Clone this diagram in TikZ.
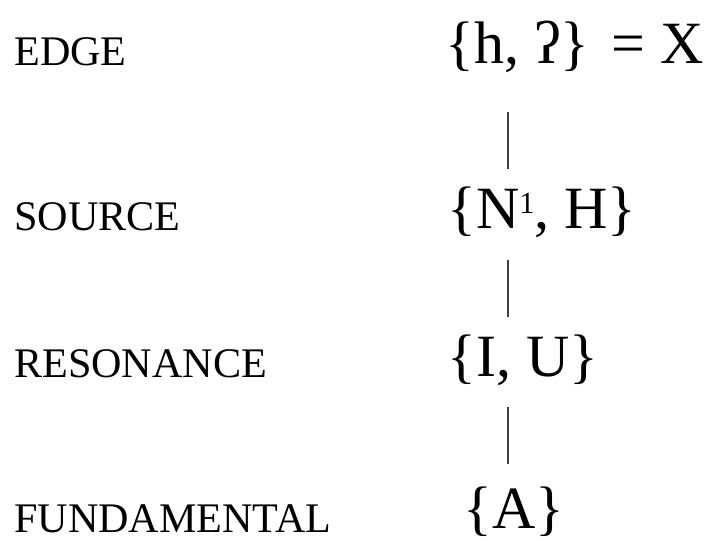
\documentclass[tikz,border=0pt]{standalone}
\usepackage{fontspec}
\setmainfont{Liberation Serif}
\usetikzlibrary{calc}
\tikzset{lvl/.style={anchor=base west, inner sep=0pt, font=\fontsize{31.6}{36}\selectfont},
  elset/.style={anchor=base west, inner sep=0pt, font=\fontsize{45}{52}\selectfont},
  link/.style={line width=1.2pt, black!75}}
\newcommand{\supone}{\raisebox{11pt}{\fontsize{23}{26}\selectfont 1}}

\begin{document}
\begin{tikzpicture}[x=0.75pt, y=-0.75pt]
\useasboundingbox (0,0) rectangle (716,539);
% ===== level names (left column) =====
\foreach \nm/\lab/\yy in {edge/EDGE/65, source/SOURCE/230, resonance/RESONANCE/377, fundamental/FUNDAMENTAL/532}{
  \node[lvl] (\nm) at (14,\yy) {\lab};
}
% ===== element sets (right column) =====
\node[elset] (edgeset) at (445,63) {\{h, ʔ\}\hspace{5pt} = X};
\node[elset] (sourceset) at (447,228) {\{N\supone, H\}};
\node[elset] (resset) at (447,376) {\{I, U\}};
\node[elset] (fundset) at (463,528) {\{A\}};
% vertical links, all on one spine
\coordinate (spine) at (508,0);
\foreach \a/\b/\ga/\gb in {edgeset/sourceset/49/59, sourceset/resset/32/59, resset/fundset/31/64}{
  \draw[link] ($(\a.base -| spine)+(0,\ga)$) -- ($(\b.base -| spine)+(0,-\gb)$);
}
\end{tikzpicture}
\end{document}
